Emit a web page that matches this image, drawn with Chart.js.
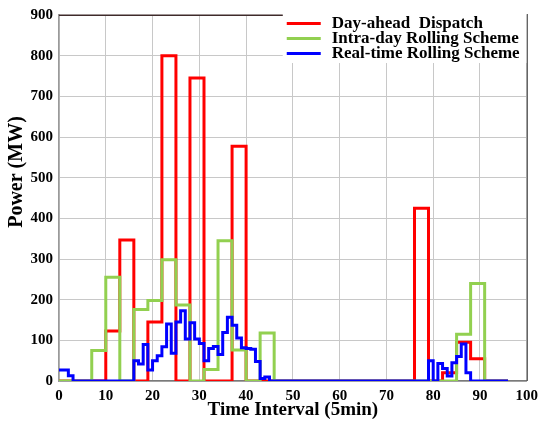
<!DOCTYPE html>
<html>
<head>
<meta charset="utf-8">
<script src="https://cdn.jsdelivr.net/npm/chart.js@4.4.0/dist/chart.umd.min.js"></script>
<style>
html,body{margin:0;padding:0;background:#ffffff;}
#wrap{width:544px;height:427px;}
canvas{display:block;}
</style>
</head>
<body>
<div id="wrap"><canvas id="c" width="544" height="427"></canvas></div>
<script>
// ---- data (one value per 5-min interval, 96 intervals) ----
const seriesNames = ['Day-ahead  Dispatch', 'Intra-day Rolling Scheme', 'Real-time Rolling Scheme'];
const seriesColors = ['#ff0000', '#92d050', '#0000ff'];
const xTitle = 'Time Interval (5min)';
const yTitle = 'Power (MW)';

const dayAhead = [
  0,0,0,0,0,0,0,0,0,0,
  123,123,123,347,347,347,0,0,0,145,
  145,145,800,800,800,0,0,0,745,745,
  745,0,0,0,0,0,0,577,577,577,
  0,0,0,0,0,0,0,0,0,0,
  0,0,0,0,0,0,0,0,0,0,
  0,0,0,0,0,0,0,0,0,0,
  0,0,0,0,0,0,425,425,425,0,
  0,0,20,20,20,95,95,95,55,55,
  55,0,0,0,0,0
];
const intraDay = [
  0,0,0,0,0,0,0,75,75,75,
  255,255,255,0,0,0,176,176,176,198,
  198,198,298,298,298,187,187,187,0,0,
  0,28,28,28,345,345,345,76,76,76,
  0,0,0,118,118,118,0,0,0,0,
  0,0,0,0,0,0,0,0,0,0,
  0,0,0,0,0,0,0,0,0,0,
  0,0,0,0,0,0,0,0,0,0,
  0,0,0,0,0,115,115,115,240,240,
  240,0,0,0,0,0
];
const realTime = [
  27,27,13,0,0,0,0,0,0,0,
  0,0,0,0,0,0,50,42,90,27,
  50,62,84,140,68,145,173,103,143,103,
  92,50,80,85,65,119,157,137,106,82,
  80,78,48,6,10,0,0,0,0,0,
  0,0,0,0,0,0,0,0,0,0,
  0,0,0,0,0,0,0,0,0,0,
  0,0,0,0,0,0,0,0,0,50,
  0,43,31,12,45,60,91,20,0,0,
  0,0,0,0,0,0
];
const xTickValues = [0,10,20,30,40,50,60,70,80,90,100];
const yTickValues = [0,100,200,300,400,500,600,700,800,900];

// stepped points: value of interval i held from x=i to x=i+1
function toSteps(vals){
  const pts = vals.map((v, i) => ({x: i, y: v}));
  pts.push({x: vals.length, y: vals[vals.length - 1]});
  return pts;
}

const FONT = "'Liberation Serif', 'Times New Roman', serif";

const boxLegend = {
  id: 'boxLegend',
  afterDraw(chart){
    const ctx = chart.ctx;
    const a = chart.chartArea;
    const boxLeft = a.right - 244;
    ctx.save();
    // legend background box
    ctx.fillStyle = '#ffffff';
    ctx.fillRect(boxLeft, a.top - 2, a.right - boxLeft, 50);
    // top frame line (visible left of legend)
    ctx.strokeStyle = '#3f2b2b';
    ctx.lineWidth = 1.5;
    ctx.beginPath();
    ctx.moveTo(a.left, a.top + 0.25);
    ctx.lineTo(boxLeft, a.top + 0.25);
    ctx.stroke();
    // right frame line
    ctx.strokeStyle = '#333333';
    ctx.lineWidth = 1;
    ctx.beginPath();
    ctx.moveTo(a.right + 0.5, a.top - 1);
    ctx.lineTo(a.right + 0.5, a.bottom);
    ctx.stroke();
    // legend items
    ctx.font = 'bold 17px ' + FONT;
    ctx.textBaseline = 'middle';
    ctx.textAlign = 'left';
    for (let i = 0; i < seriesNames.length; i++){
      const y = a.top + 8.5 + 15 * i;
      ctx.strokeStyle = seriesColors[i];
      ctx.lineWidth = 3;
      ctx.beginPath();
      ctx.moveTo(a.right - 240, y);
      ctx.lineTo(a.right - 206, y);
      ctx.stroke();
      ctx.fillStyle = '#000000';
      ctx.fillText(seriesNames[i], a.right - 195, y + 0.5);
    }
    // y-axis title (placed like the reference, above the axis centre)
    ctx.translate(17, 172);
    ctx.rotate(-Math.PI / 2);
    ctx.font = 'bold 20px ' + FONT;
    ctx.textAlign = 'center';
    ctx.textBaseline = 'middle';
    ctx.fillStyle = '#000000';
    ctx.fillText(yTitle, 0, 0);
    ctx.restore();
  }
};

new Chart(document.getElementById('c'), {
  type: 'line',
  data: {
    datasets: [
      {label: seriesNames[2], data: toSteps(realTime), borderColor: seriesColors[2], stepped: 'before'},
      {label: seriesNames[1], data: toSteps(intraDay), borderColor: seriesColors[1], stepped: 'before'},
      {label: seriesNames[0], data: toSteps(dayAhead), borderColor: seriesColors[0], stepped: 'before'}
    ]
  },
  options: {
    responsive: false,
    animation: false,
    devicePixelRatio: 1,
    layout: {padding: {left: 0, right: 13, top: 14, bottom: 0}},
    elements: {
      point: {radius: 0, hoverRadius: 0},
      line: {borderWidth: 3, tension: 0, fill: false, borderJoinStyle: 'miter', borderCapStyle: 'butt'}
    },
    plugins: {legend: {display: false}, tooltip: {enabled: false}},
    scales: {
      x: {
        type: 'linear', min: 0, max: 100,
        afterBuildTicks: s => { s.ticks = xTickValues.map(v => ({value: v})); },
        afterFit: s => { s.height = 46; },
        grid: {color: '#c8c8c8', lineWidth: 1, drawTicks: false},
        border: {color: '#7a7a7a', width: 1.5},
        ticks: {padding: 6, color: '#000', autoSkip: false, maxRotation: 0, font: {family: FONT, size: 15, weight: 'bold'}},
        title: {display: true, text: xTitle, color: '#000', font: {family: FONT, size: 19, weight: 'bold'}, padding: {top: 0, bottom: 6}}
      },
      y: {
        type: 'linear', min: 0, max: 900,
        afterBuildTicks: s => { s.ticks = yTickValues.map(v => ({value: v})); },
        afterFit: s => { s.width = 59; },
        grid: {color: '#c8c8c8', lineWidth: 1, drawTicks: false},
        border: {color: '#9a9a9a', width: 1.5},
        ticks: {padding: 6, color: '#000', font: {family: FONT, size: 15, weight: 'bold'}},
        title: {display: false, text: yTitle}
      }
    }
  },
  plugins: [boxLegend]
});
</script>
</body>
</html>
